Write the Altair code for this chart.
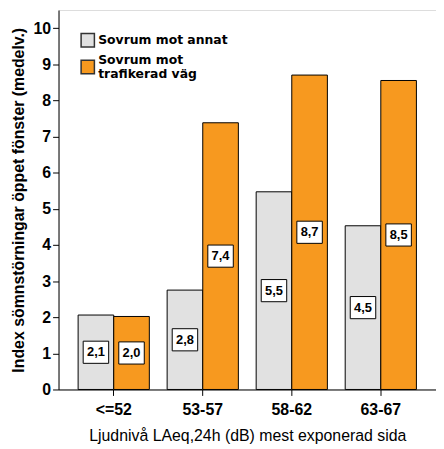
import altair as alt
import pandas as pd

categories = ["<=52", "53-57", "58-62", "63-67"]
series = ["Sovrum mot annat", "Sovrum mot trafikerad väg"]
annat = [2.06, 2.75, 5.47, 4.53]
trafik = [2.02, 7.38, 8.70, 8.55]
annat_lbl = ["2,1", "2,8", "5,5", "4,5"]
trafik_lbl = ["2,0", "7,4", "8,7", "8,5"]

rows = []
for i, c in enumerate(categories):
    rows.append({"cat": c, "ser": series[0], "val": annat[i], "lbl": annat_lbl[i], "mid": annat[i] / 2})
    rows.append({"cat": c, "ser": series[1], "val": trafik[i], "lbl": trafik_lbl[i], "mid": trafik[i] / 2})
df = pd.DataFrame(rows)

x = alt.X("cat:N", sort=categories,
          scale=alt.Scale(paddingInner=0.2, paddingOuter=0.22),
          axis=alt.Axis(title="Ljudnivå LAeq,24h (dB) mest exponerad sida", labelAngle=0,
                        labelFontWeight="bold", labelFontSize=16, titleFontSize=16,
                        titleFontWeight="normal", labelColor="black", titleColor="black",
                        domainColor="black", tickColor="black", tickSize=6, labelPadding=6,
                        titlePadding=10, labelFont="Liberation Sans", titleFont="Liberation Sans"))
xo = alt.XOffset("ser:N", sort=series)
yscale = alt.Scale(domain=[0, 10.5], nice=False)
yaxis = alt.Axis(title="Index sömnstörningar öppet fönster (medelv.)",
                 values=list(range(11)), grid=False, labelFontWeight="bold",
                 labelFontSize=16, titleFontSize=16, titleFontWeight="bold",
                 labelColor="black", titleColor="black", domainColor="black",
                 tickColor="black", tickSize=6, labelPadding=2, titlePadding=7,
                 labelOverlap=False,
                 labelFont="Liberation Sans", titleFont="Liberation Sans")

bars = alt.Chart(df).mark_bar(stroke="black", strokeWidth=1).encode(
    x=x, xOffset=xo,
    y=alt.Y("val:Q", scale=yscale, axis=yaxis),
    color=alt.Color("ser:N", sort=series,
                    scale=alt.Scale(domain=series, range=["#e1e1e1", "#f7991f"]),
                    legend=alt.Legend(title=None, orient="none", legendX=22, legendY=23,
                                      symbolType="square", symbolSize=180,
                                      symbolStrokeColor="#333333", symbolStrokeWidth=1.5,
                                      labelFontWeight="bold", labelFontSize=12.5,
                                      labelFont="DejaVu Sans", labelColor="black",
                                      labelLimit=300, rowPadding=3, labelOffset=3,
                                      labelBaseline={"expr": "datum.index == 1 ? 'bottom' : 'middle'"},
                                      labelExpr="datum.label == 'Sovrum mot trafikerad väg' ? ['Sovrum mot', 'trafikerad väg'] : datum.label")),
)

boxes = alt.Chart(df).mark_point(
    shape="M-1.15,-1L1.15,-1L1.15,1L-1.15,1Z", filled=True, fill="white",
    stroke="black", strokeWidth=1, opacity=1, size=500
).encode(x=x, xOffset=xo, y=alt.Y("mid:Q", scale=yscale, axis=yaxis))

texts = alt.Chart(df).mark_text(fontWeight="bold", fontSize=13, font="Liberation Sans",
                                color="black").encode(
    x=x, xOffset=xo, y=alt.Y("mid:Q", scale=yscale, axis=yaxis), text="lbl:N")

chart = alt.layer(bars, boxes, texts).properties(
    width=381, height=383, padding={"left": 2, "top": 0, "right": 0, "bottom": 0}
).configure_view(stroke="#555555", strokeWidth=1.5).configure(background="white")

chart.save("out.html", embed_options={"renderer": "svg", "actions": False})
